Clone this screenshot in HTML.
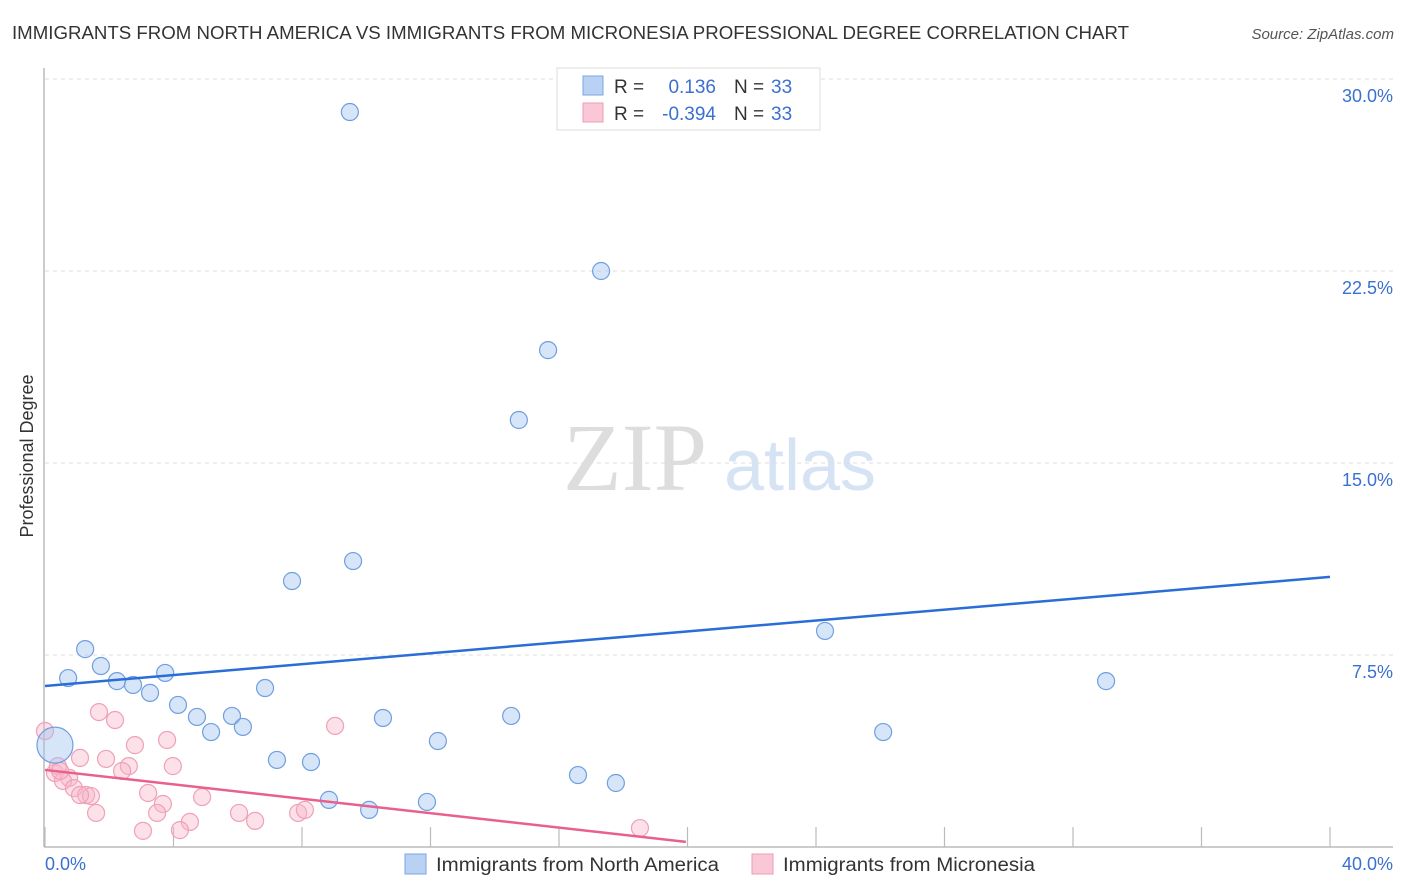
<!DOCTYPE html>
<html><head><meta charset="utf-8"><style>
body{margin:0;background:#fff;width:1406px;height:892px;overflow:hidden;font-family:"Liberation Sans",sans-serif}
svg{position:absolute;left:0;top:0}
</style></head><body>
<svg id="c" width="1406" height="892">
<text x="12" y="39" font-size="18" fill="#333" textLength="1117" lengthAdjust="spacingAndGlyphs">IMMIGRANTS FROM NORTH AMERICA VS IMMIGRANTS FROM MICRONESIA PROFESSIONAL DEGREE CORRELATION CHART</text>
<text x="1394" y="39" font-size="15" fill="#555" font-style="italic" text-anchor="end">Source: ZipAtlas.com</text>
<text x="33" y="456" font-size="18" fill="#333" text-anchor="middle" transform="rotate(-90 33 456)">Professional Degree</text>
<g>
<text x="635" y="490" font-size="96" fill="#ddd" font-family="Liberation Serif,serif" text-anchor="middle">ZIP</text>
<text x="800" y="490" font-size="72" fill="#d6e3f5" text-anchor="middle">atlas</text>
</g>
<g id="grid"></g><g id="pts"></g><g id="lines"></g>
<g>
<rect x="557" y="68" width="263" height="62" fill="#fff" stroke="#ddd"/>
<rect x="583" y="76" width="20" height="19" fill="#b9d2f3" stroke="#7aa6e0"/>
<rect x="583" y="103" width="20" height="19" fill="#f9c7d6" stroke="#ee9cb6"/>
<text x="614" y="93" font-size="19" fill="#333">R =</text><text x="716" y="93" font-size="19" fill="#3a70d0" text-anchor="end">0.136</text>
<text x="734" y="93" font-size="19" fill="#333">N =</text><text x="771" y="93" font-size="19" fill="#3a70d0">33</text>
<text x="614" y="120" font-size="19" fill="#333">R =</text><text x="716" y="120" font-size="19" fill="#3a70d0" text-anchor="end">-0.394</text>
<text x="734" y="120" font-size="19" fill="#333">N =</text><text x="771" y="120" font-size="19" fill="#3a70d0">33</text>
</g>
<g>
<rect x="405" y="854" width="21" height="20" fill="#b9d2f3" stroke="#7aa6e0"/>
<text x="436" y="871" font-size="19" fill="#333" textLength="283" lengthAdjust="spacingAndGlyphs">Immigrants from North America</text>
<rect x="752" y="854" width="21" height="20" fill="#f9c7d6" stroke="#ee9cb6"/>
<text x="783" y="871" font-size="19" fill="#333" textLength="252" lengthAdjust="spacingAndGlyphs">Immigrants from Micronesia</text>
</g>
</svg>
<script>
const blueX=[9.49,17.31,15.66,14.75,9.59,7.69,24.28,1.25,1.74,0.72,2.24,2.74,3.74,3.27,6.85,4.14,4.73,5.82,5.17,6.16,10.52,14.51,33.03,26.09,12.23,7.22,8.28,16.59,17.77,8.84,10.09,11.89,0.31];
const blueY=[28.71,22.5,19.41,16.68,11.17,10.39,8.44,7.73,7.07,6.6,6.48,6.33,6.8,6.02,6.21,5.55,5.08,5.12,4.49,4.69,5.04,5.12,6.48,4.49,4.14,3.4,3.32,2.81,2.5,1.84,1.45,1.76,3.98];
const pinkX=[0,1.68,2.18,2.8,3.8,9.03,1.09,1.9,2.61,2.4,3.98,0.31,0.4,0.75,0.56,0.9,1.28,1.43,3.21,4.89,3.67,3.49,1.59,6.04,6.54,4.51,7.88,8.09,3.05,4.2,18.52,1.09,0.47];
const pinkY=[4.53,5.27,4.96,3.98,4.18,4.73,3.48,3.44,3.16,2.97,3.16,2.89,3.16,2.7,2.58,2.3,2.03,1.99,2.11,1.95,1.68,1.33,1.33,1.33,1.02,0.98,1.33,1.45,0.63,0.66,0.74,2.03,2.97];
const yTicks=[7.5,15,22.5,30];
const xTicks=[0,4,8,12,16,20,24,28,32,36,40];
const blueTrend=[0,40,6.29,10.55];
const pinkTrend=[0,19.95,3.01,0.2];
const NS="http://www.w3.org/2000/svg";
const sx=v=>45+v/40*1285, sy=v=>847-v/7.5*192;
function mk(t,a,p){const e=document.createElementNS(NS,t);for(const k in a)e.setAttribute(k,a[k]);p.appendChild(e);return e;}
const g=document.getElementById('grid');
let ax=mk('line',{x1:44,y1:68,x2:44,y2:847,stroke:'#bbb','stroke-width':1.5},g);


let bx=mk('line',{x1:44,y1:847,x2:1393,y2:847,stroke:'#bbb','stroke-width':1.5},g);


yTicks.forEach(v=>{
 const l=mk('line',{x1:45,x2:1393,y1:sy(v),y2:sy(v),stroke:'#ddd','stroke-dasharray':'4,4'},g);
 
 
 const t=mk('text',{x:1393,y:sy(v)+23,'font-size':18,fill:'#3a70d0','text-anchor':'end'},g);
 t.textContent=v.toFixed(1)+'%';
 
 
});
xTicks.forEach(v=>{
 const l=mk('line',{x1:sx(v),x2:sx(v),y1:827,y2:847,stroke:'#bbb','stroke-width':1.2},g);
 
 
});
[[0,'start',45],[40,'end',1393]].forEach(([v,a,x])=>{
 const t=mk('text',{x:x,y:870,'font-size':18,fill:'#3a70d0','text-anchor':a},g);
 t.textContent=v.toFixed(1)+'%';
 
 
});
const p=document.getElementById('pts');
pinkX.forEach((x,i)=>{
 const c=mk('circle',{cx:sx(x),cy:sy(pinkY[i]),r:8.5,fill:'rgba(248,180,200,0.4)',stroke:'#f0a0b8','stroke-width':1.2},p);
 
 
});
blueX.forEach((x,i)=>{
 const big=i===blueX.length-1;
 const c=mk('circle',{cx:sx(x),cy:sy(blueY[i]),r:big?18:8.5,fill:'rgba(165,198,240,0.45)',stroke:'#6f9fe0','stroke-width':1.2},p);
 
 
});
const L=document.getElementById('lines');
let b=mk('line',{x1:sx(blueTrend[0]),y1:sy(blueTrend[2]),x2:sx(blueTrend[1]),y2:sy(blueTrend[3]),stroke:'#2a6dd6','stroke-width':2.5},L);


let q=mk('line',{x1:sx(pinkTrend[0]),y1:sy(pinkTrend[2]),x2:sx(pinkTrend[1]),y2:sy(pinkTrend[3]),stroke:'#e8608e','stroke-width':2.5},L);


</script>
</body></html>
